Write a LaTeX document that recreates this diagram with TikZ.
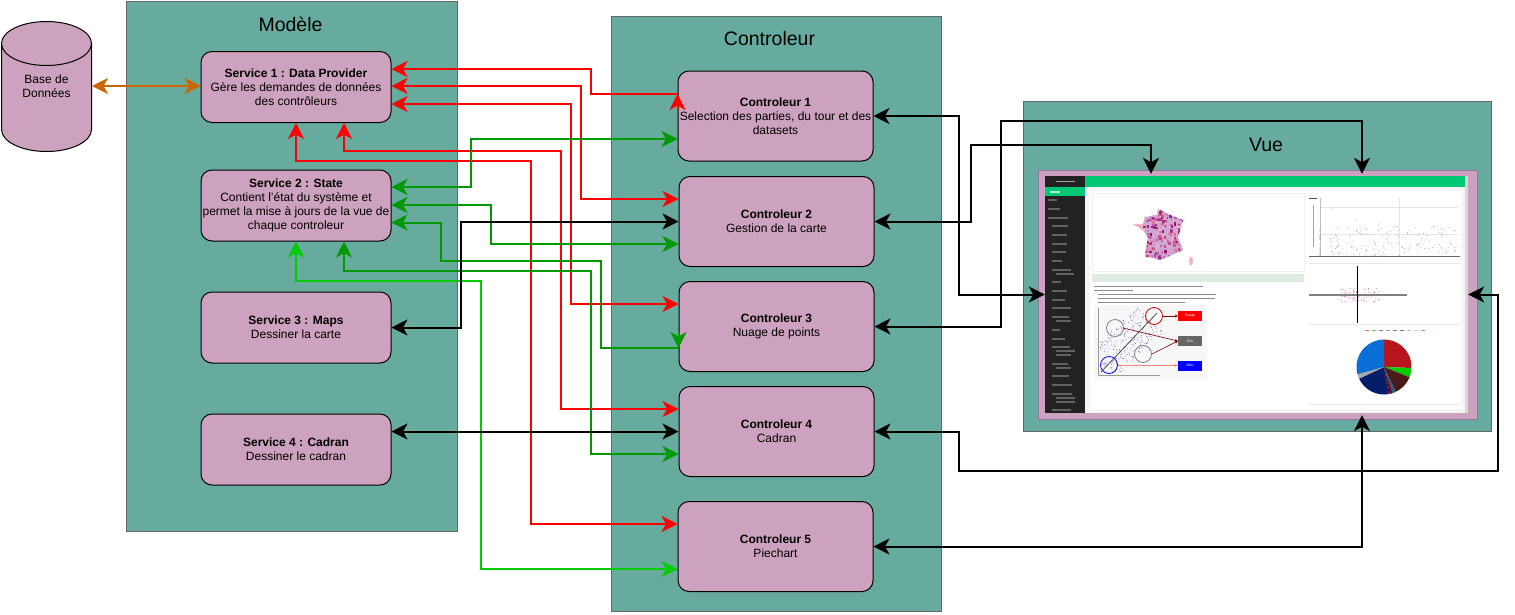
\documentclass[tikz,border=0pt]{standalone}
\usepackage{fontspec}
\setmainfont{Liberation Sans}
\usetikzlibrary{arrows.meta,shapes.geometric}
\usepackage{xcolor}
\definecolor{Panel}{RGB}{103,171,159}
\definecolor{Box}{RGB}{205,162,190}
\definecolor{Frame}{RGB}{150,115,166}
\definecolor{LinkRed}{RGB}{255,0,0}
\definecolor{LinkGreen}{RGB}{0,153,0}
\definecolor{LinkLime}{RGB}{0,204,0}
\definecolor{LinkOrange}{RGB}{204,102,0}
\definecolor{Menu}{RGB}{34,34,34}
\definecolor{Header}{RGB}{0,200,117}
\definecolor{Dots}{RGB}{120,175,225}
\definecolor{PieRed}{RGB}{184,20,30}
\definecolor{PieBrown}{RGB}{74,26,26}
\definecolor{PieTeal}{RGB}{30,100,130}
\definecolor{PieNavy}{RGB}{5,30,105}
\definecolor{PieBlue}{RGB}{10,110,215}
\tikzset{
  panel/.style={rectangle, draw=black!60, fill=Panel, line width=0.8pt},
  paneltitle/.style={font=\fontsize{19.5}{22}\selectfont},
  boxnode/.style={rectangle, rounded corners=11pt, draw=black, fill=Box, line width=1pt,
    align=center, inner sep=0pt, font=\fontsize{12}{14}\selectfont},
  servicenode/.style={boxnode, minimum width=190pt, minimum height=71pt},
  ctrlnode/.style={boxnode, minimum width=195pt, minimum height=90pt},
  link/.style={line width=2pt},
  redlink/.style={link, LinkRed},
  greenlink/.style={link, LinkGreen},
  limelink/.style={link, LinkLime},
  blacklink/.style={link, black},
  menurow/.style={line width=1.2pt, black!62},
  textrow/.style={line width=1pt, black!45},
  tag/.style={rectangle, text=white, font=\fontsize{3.5}{4}\selectfont, minimum width=24pt, minimum height=10pt, inner sep=0pt},
  minitip/.style={-{Stealth[length=3pt,width=3pt]}, line width=0.6pt},
}
\begin{document}
\begin{tikzpicture}[x=1pt, y=-1pt, >={Stealth[length=16pt,width=16pt,inset=4.5pt]}]
\useasboundingbox (0,0) rectangle (1515,614);

% the three columns
\node[panel, minimum width=331pt, minimum height=530pt] (modele) at (291.5,266) {};
\node[panel, minimum width=330pt, minimum height=595pt] (controleur) at (776,313.5) {};
\node[panel, minimum width=468pt, minimum height=330pt] (vue) at (1257,266) {};
\node[paneltitle] (modeletitle) at (290.5,24) {Modèle};
\node[paneltitle] (controleurtitle) at (769.5,39) {Controleur};
\node[paneltitle] (vuetitle) at (1266,145) {Vue};

% database
\node[cylinder, shape border rotate=90, draw=black, fill=Box, line width=1pt, shape aspect=1,
  minimum width=90pt, minimum height=130pt, inner sep=0pt, anchor=shape center] (db) at (46.5,86.5) {\phantom{\rule{44pt}{28pt}}};
\node[align=center, inner sep=0pt, font=\fontsize{12}{14}\selectfont] (dblabel) at (46.5,86) {Base de\\Données};

% services
\node[servicenode] (s1) at (296,87) {\textbf{Service 1 : Data Provider}\\Gère les demandes de données\\des contrôleurs};
\node[servicenode] (s2) at (296,205.5) {\textbf{Service 2 : State}\\Contient l'état du système et\\permet la mise à jours de la vue de\\chaque controleur};
\node[servicenode] (s3) at (296,327.5) {\textbf{Service 3 : Maps}\\Dessiner la carte};
\node[servicenode] (s4) at (296,449.5) {\textbf{Service 4 : Cadran}\\Dessiner le cadran};

% controleurs
\node[ctrlnode] (c1) at (775.5,116) {\textbf{Controleur 1}\\Selection des parties, du tour et des\\datasets};
\node[ctrlnode] (c2) at (776.5,221.5) {\textbf{Controleur 2}\\Gestion de la carte};
\node[ctrlnode] (c3) at (776.5,326.5) {\textbf{Controleur 3}\\Nuage de points};
\node[ctrlnode] (c4) at (776.5,431.5) {\textbf{Controleur 4}\\Cadran};
\node[ctrlnode] (c5) at (775.5,546.5) {\textbf{Controleur 5}\\Piechart};

% screenshot of the application
\node[rectangle, draw=Frame, fill=Box, line width=1pt, minimum width=439pt, minimum height=249pt] (frame) at (1257.5,294.5) {};
\node[rectangle, fill=black!15!white, inner sep=0pt, minimum width=423pt, minimum height=237pt] (shot) at (1256.5,294.5) {};
\fill[black!4] (1085,187) rectangle (1465,413);
\fill[white] (1090,191) rectangle (1461,409);
\fill[Menu] (1045,176) rectangle (1085,413);
\fill[Header] (1085,176) rectangle (1465,187);
\fill[Header] (1045,187) rectangle (1085,196);
\draw[line width=1.2pt, black!35] (1056,181.5) -- (1075,181.5);
\draw[line width=1.2pt, white!70!Header] (1050,192) -- (1060,192);
\pgfmathsetseed{3}
\foreach \rowy/\rowx in {200/1048,209/1048,218/1048,226/1052,235/1052,244/1052,252/1052,261/1052,270/1052,274/1056,282/1052,291/1052,300/1052,308/1052,317/1052,321/1056,330/1052,339/1052,347/1052,351/1056,355/1056,364/1052,368/1056,376/1052,385/1052,394/1052,398/1056,402/1056,410/1052} {
  \pgfmathsetmacro\rowend{\rowx+8+rnd*12}
  \draw[menurow] (\rowx,\rowy) -- (\rowend,\rowy);
}
% map
\draw[black!6] (1092,193) rectangle (1304,271);
\begin{scope}
  \clip (1158,209) -- (1168,214) -- (1183,220) -- (1178,237) -- (1183,250) -- (1172,255) -- (1160,260) -- (1150,257) -- (1145,257) -- (1148,237) -- (1142,229) -- (1133,224) -- (1143,224) -- (1145,217) -- (1157,215) -- cycle;
  \fill[violet!35!white] (1130,205) rectangle (1186,262);
  \pgfmathsetseed{7}
  \foreach \i in {1,...,260} {
    \pgfmathsetmacro\cellx{1133+rnd*50}
    \pgfmathsetmacro\celly{209+rnd*50}
    \pgfmathsetmacro\cellmix{rnd*100}
    \pgfmathsetmacro\cellshade{25+rnd*70}
    \fill[purple!\cellmix!violet!\cellshade!white] (\cellx,\celly) rectangle ++(2.5,2.5);
  }
  \fill[purple!30!white] (1130,220) rectangle (1143,232);
\end{scope}
\fill[purple!30!white] (1191,261) ellipse[x radius=2pt, y radius=4.5pt];
% notice
\fill[green!40!black!13!white] (1092,274) rectangle (1304,282);
\foreach \rowa/\rowb/\rowc in {286/1094/1203,290/1094/1133,294/1098/1216,298/1098/1215,302/1098/1185} {
  \draw[textrow] (\rowb,\rowa) -- (\rowc,\rowa);
}
% small scatter picture
\fill[black!3] (1094,305) rectangle (1207,380);
\begin{scope}
  \clip (1098,308) rectangle (1165,375);
  \pgfmathsetseed{11}
  \foreach \i in {1,...,280} {
    \pgfmathsetmacro\dott{rand}
    \pgfmathsetmacro\dotu{rand}
    \fill[blue!60!black!70] ({1127+\dott*24+\dotu*13},{342-\dott*22+\dotu*13}) circle[radius=0.4pt];
  }
\end{scope}
\draw[black!70, line width=0.8pt] (1101,372) -- (1157,313);
\draw[black!40, line width=0.5pt] (1098,308) -- (1098,375) -- (1160,375);
\draw[red!80!black, line width=0.8pt] (1154,316) circle[radius=8.5pt];
\draw[black!50, line width=0.8pt] (1115,328) circle[radius=8.5pt];
\draw[black!50, line width=0.8pt] (1143,354) circle[radius=8.5pt];
\draw[blue, line width=0.8pt] (1109,365) circle[radius=8.5pt];
\node[tag, fill=red] (rouge) at (1190,316) {Rouge};
\node[tag, fill=black!60] (gris) at (1190,341) {Gris};
\node[tag, fill=blue] (bleu) at (1190,365.5) {Bleu};
\draw[minitip, red!50!black] (1163,316) -- (rouge.west);
\draw[minitip, red!50!black] (1123,328) -- (gris.west);
\draw[minitip, red!50!black] (1152,354) -- (gris.west);
\draw[minitip, red!50!white] (1118,365.5) -- (bleu.west);
% scatter chart
\draw[black!10] (1320,207.5) -- (1458,207.5) (1320,234) -- (1458,234) (1399,198) -- (1399,256);
\draw[black!25] (1320,198) -- (1320,256);
\draw[black!60, line width=0.8pt] (1309,256) -- (1460,256);
\draw[black!70, line width=0.8pt] (1309,198) -- (1317,198);
\draw[black!35, line width=0.8pt] (1313,205) -- (1313,247);
\pgfmathsetseed{23}
\foreach \i in {1,...,150} {
  \fill[Dots] ({1330+rnd*128},{226+rnd*30}) circle[radius=0.5pt];
}
\foreach \i in {1,...,20} {
  \fill[Dots] (1320,{228+rnd*28}) circle[radius=0.5pt];
}
\fill[Dots] (1332,209) circle[radius=0.6pt] (1357,220) circle[radius=0.6pt] (1348,228) circle[radius=0.6pt] (1379,224) circle[radius=0.6pt];
\draw[black!10] (1309,263) -- (1460,263) (1309,324) -- (1460,324) (1309,404) -- (1460,404);
% cross
\pgfmathsetseed{31}
\foreach \i in {1,...,90} {
  \fill[purple!70!white!70] ({1340+rnd*40},{288+rnd*14}) circle[radius=0.5pt];
}
\draw[black!50, line width=1.6pt] (1309,295) -- (1407,295);
\draw[black, line width=1pt] (1357,266) -- (1357,323);
% pie
\foreach \pa/\pb/\pc in {90/-2/PieRed,-2/-22/LinkLime,-22/-65/PieBrown,-65/-72/PieTeal,-72/-78/red!50!black,-78/-80/blue!30!black,-80/-155/PieNavy,-155/-165/black!35,-165/-270/PieBlue} {
  \fill[\pc] (1384,367) -- ++(\pa:27.5pt) arc[start angle=\pa, end angle=\pb, radius=27.5pt] -- cycle;
}
\foreach \dotx/\pc in {1365/PieRed,1372/green!70!black,1379/PieBrown,1386/PieTeal,1393/red!50!black,1400/PieNavy,1407/black!40,1414/black!30,1421/PieBlue} {
  \draw[\pc, opacity=0.6, line width=1pt] (\dotx,330) -- ++(4,0);
}

% orange link
\draw[link, LinkOrange, <->] (dblabel -| db.east) -- (dblabel -| s1.west);

% red links
\draw[redlink, <-] ([yshift=18pt]s1.east) -| (591,94) -- ([yshift=22pt]c1.west);
\draw[redlink, ->] ([yshift=6pt]c1.west) -- ([yshift=22pt]c1.west);
\draw[redlink, <->] ([yshift=1pt]s1.east) -| (581,199) -- ([yshift=22.5pt]c2.west);
\draw[redlink, <->] ([yshift=-17pt]s1.east) -| (571,304) -- ([yshift=22.5pt]c3.west);
\draw[redlink, <->] ([xshift=48pt]s1.south) |- (561,151) |- ([yshift=22.5pt]c4.west);
\draw[redlink, <->] (s1.south) |- (531,161) |- ([yshift=22.5pt]c5.west);

% green links
\draw[greenlink, <->] ([yshift=18.5pt]s2.east) -| (471,139) -- ([yshift=-23pt]c1.west);
\draw[greenlink, <->] ([yshift=0.5pt]s2.east) -| (491,244) -- ([yshift=-22.5pt]c2.west);
\draw[greenlink, <-] ([yshift=-17pt]s2.east) -| (441,261) -| (601,348) -- ([yshift=-21.5pt]c3.west);
\draw[greenlink, ->] ([yshift=-5.5pt]c3.west) -- ([yshift=-21.5pt]c3.west);
\draw[greenlink, <->] ([xshift=48pt]s2.south) |- (591,271) |- ([yshift=-22.5pt]c4.west);
\draw[limelink, <->] (s2.south) |- (481,281) |- ([yshift=-22.5pt]c5.west);

% black links
\draw[blacklink, <->] (s3.east) -| (461,221.5) -- (c2.west);
\draw[blacklink, <->] ([yshift=18pt]s4.east) -- (c4.west);
\draw[blacklink, <->] (c1.east) -| (959,294.5) -- (shot.west);
\draw[blacklink, <->] (c2.east) -| (971,145) -| ([xshift=-105.5pt,yshift=2pt]shot.north);
\draw[blacklink, <->] (c3.east) -| (1001,121) -| ([xshift=105.5pt,yshift=2pt]shot.north);
\draw[blacklink, <->] (c4.east) -| (959,471) -| (1498,294.5) -- (shot.east);
\draw[blacklink, <->] (c5.east) -| ([xshift=105.5pt,yshift=-2pt]shot.south);
\end{tikzpicture}
\end{document}
